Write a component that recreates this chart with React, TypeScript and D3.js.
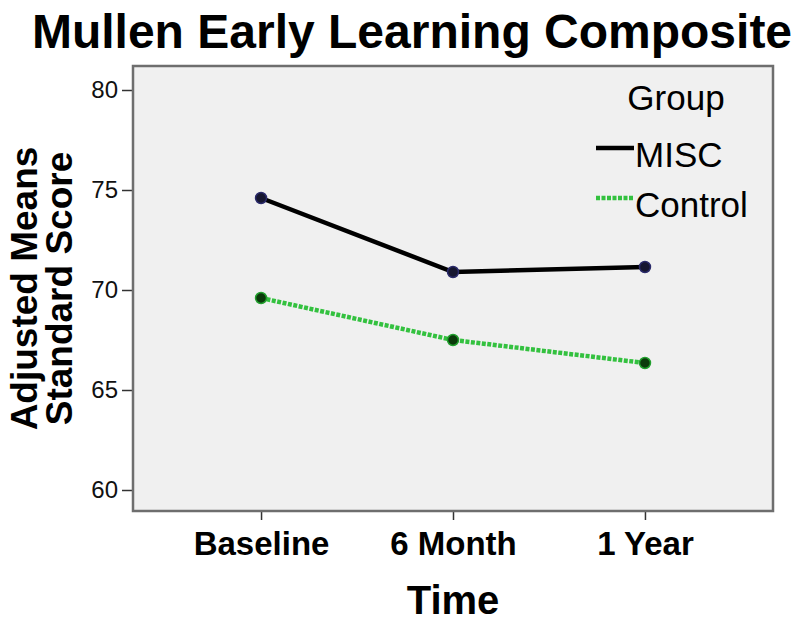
import React, { useEffect, useRef } from "react";
import * as d3 from "d3";

const momentos = ["Baseline", "6 Month", "1 Year"];
const valoresMISC = [74.6, 70.9, 71.15];
const valoresControl = [69.6, 67.5, 66.35];
const ticksY = [60, 65, 70, 75, 80];
const grupos = ["MISC", "Control"];

export default function App() {
  const refGrafico = useRef<SVGSVGElement | null>(null);

  useEffect(() => {
    const svg = d3.select(refGrafico.current);
    svg.selectAll("*").remove();

    const izq = 133;
    const der = 773;
    const arriba = 66;
    const abajo = 511;
    const fuente = "'Liberation Sans', Arial, sans-serif";

    const x = d3.scalePoint<string>().domain(momentos).range([izq, der]).padding(0.667);
    const y = d3.scaleLinear().domain([58.95, 81.2]).range([abajo, arriba]);

    // titulo
    svg
      .append("text")
      .attr("x", 412)
      .attr("y", 48)
      .attr("text-anchor", "middle")
      .style("font-family", fuente)
      .style("font-weight", "bold")
      .style("font-size", "48px")
      .text("Mullen Early Learning Composite");

    // fondo del area
    svg
      .append("rect")
      .attr("x", izq)
      .attr("y", arriba)
      .attr("width", der - izq)
      .attr("height", abajo - arriba)
      .attr("fill", "#f0f0f0");

    // eje y
    const ejeY = svg
      .append("g")
      .attr("transform", `translate(${izq},0)`)
      .call(d3.axisLeft(y).tickValues(ticksY).tickSize(11).tickSizeOuter(0).tickPadding(4));
    ejeY.select(".domain").remove();
    ejeY.selectAll("line").attr("stroke", "#333").attr("stroke-width", 1.5);
    ejeY
      .selectAll("text")
      .style("font-family", fuente)
      .style("font-size", "24px")
      .attr("fill", "#111");

    // eje x
    const ejeX = svg
      .append("g")
      .attr("transform", `translate(0,${abajo})`)
      .call(d3.axisBottom(x).tickSize(9).tickSizeOuter(0).tickPadding(12));
    ejeX.select(".domain").remove();
    ejeX.selectAll("line").attr("stroke", "#333").attr("stroke-width", 1.5);
    ejeX
      .selectAll("text")
      .style("font-family", fuente)
      .style("font-size", "33px")
      .style("font-weight", "bold")
      .attr("fill", "#000");

    // marco
    svg
      .append("rect")
      .attr("x", izq)
      .attr("y", arriba)
      .attr("width", der - izq)
      .attr("height", abajo - arriba)
      .attr("fill", "none")
      .attr("stroke", "#6e6e6e")
      .attr("stroke-width", 2.5);

    // titulos de ejes
    svg
      .append("text")
      .attr("x", (izq + der) / 2)
      .attr("y", 614)
      .attr("text-anchor", "middle")
      .style("font-family", fuente)
      .style("font-weight", "bold")
      .style("font-size", "40px")
      .text("Time");

    const etiquetaY = svg
      .append("text")
      .attr("transform", `translate(0,${(arriba + abajo) / 2}) rotate(-90)`)
      .attr("text-anchor", "middle")
      .style("font-family", fuente)
      .style("font-weight", "bold")
      .style("font-size", "37px");
    etiquetaY.append("tspan").attr("x", 0).attr("y", 37).text("Adjusted Means");
    etiquetaY.append("tspan").attr("x", 0).attr("y", 72).text("Standard Score");

    // lineas
    const linea = d3
      .line<number>()
      .x((d, i) => x(momentos[i]) as number)
      .y((d) => y(d));

    const series = [
      { nombre: grupos[0], valores: valoresMISC, color: "#000000", dash: null, relleno: "#161630", borde: "#2a2a6a" },
      { nombre: grupos[1], valores: valoresControl, color: "#33c13f", dash: "4,1.5", relleno: "#0b3a0b", borde: "#22a02e" },
    ];

    series.forEach((s) => {
      svg
        .append("path")
        .datum(s.valores)
        .attr("d", linea)
        .attr("fill", "none")
        .attr("stroke", s.color)
        .attr("stroke-width", 4.5)
        .attr("stroke-dasharray", s.dash);

      svg
        .selectAll(null)
        .data(s.valores)
        .enter()
        .append("circle")
        .attr("cx", (d, i) => x(momentos[i]) as number)
        .attr("cy", (d) => y(d))
        .attr("r", 5.5)
        .attr("fill", s.relleno)
        .attr("stroke", s.borde)
        .attr("stroke-width", 1.5);
    });

    // leyenda
    const leyenda = svg.append("g").style("font-family", fuente).style("font-size", "35px");
    leyenda.append("text").attr("x", 676).attr("y", 110).attr("text-anchor", "middle").text("Group");
    series.forEach((s, i) => {
      const yy = 167 + i * 50;
      leyenda
        .append("line")
        .attr("x1", 596)
        .attr("x2", 634)
        .attr("y1", yy - 19)
        .attr("y2", yy - 19)
        .attr("stroke", s.color)
        .attr("stroke-width", 4.5)
        .attr("stroke-dasharray", s.dash);
      leyenda.append("text").attr("x", 635).attr("y", yy).text(s.nombre);
    });
  }, []);

  return (
    <div style={{ position: "absolute", left: 0, top: 0 }}>
      <svg ref={refGrafico} width={800} height={625} style={{ display: "block", background: "#fff" }}></svg>
    </div>
  );
}
